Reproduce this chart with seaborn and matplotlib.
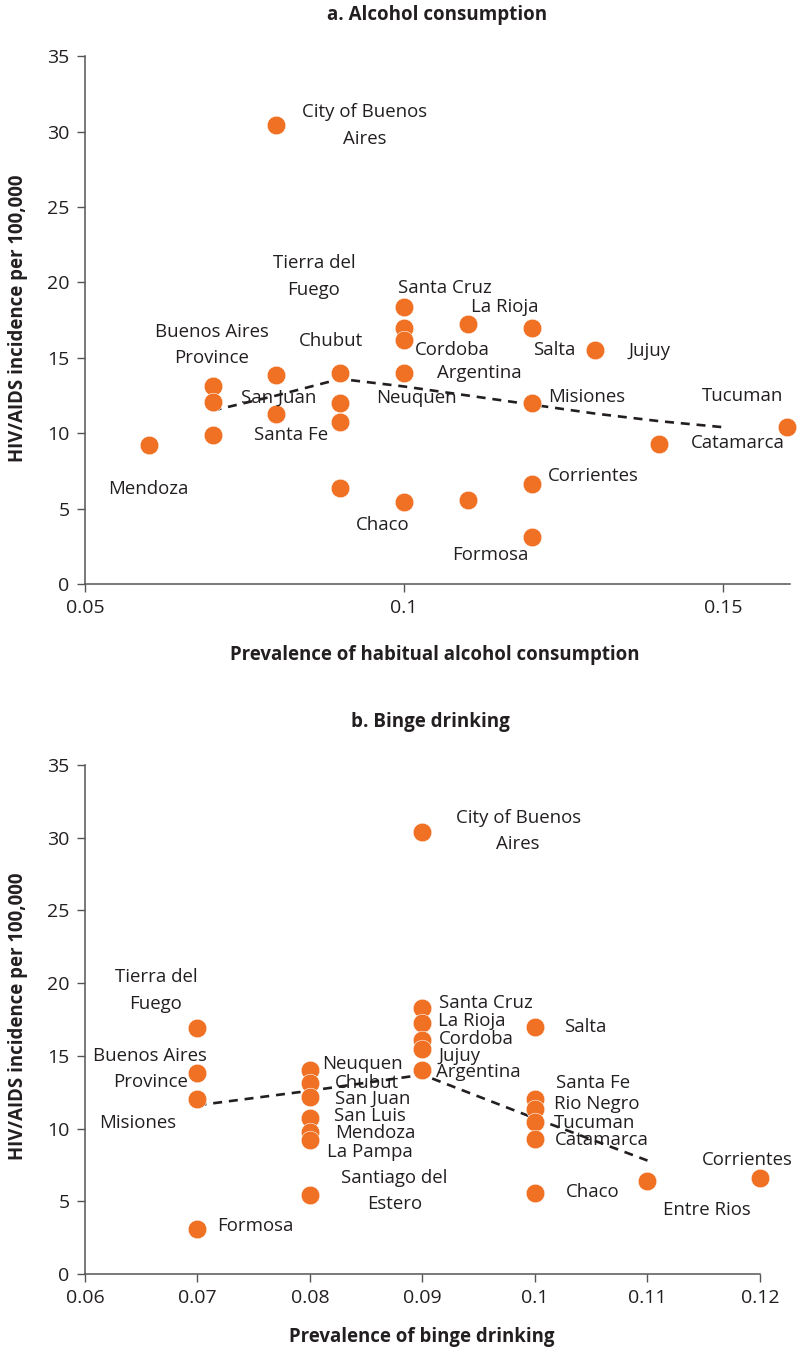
import matplotlib
matplotlib.use("Agg")
import matplotlib.pyplot as plt
import seaborn as sns
from matplotlib.ticker import FuncFormatter

# Panel a: habitual alcohol consumption vs HIV/AIDS incidence
alc_x = [0.06, 0.07, 0.07, 0.07, 0.08, 0.08, 0.08, 0.09, 0.09, 0.09, 0.09,
         0.10, 0.10, 0.10, 0.10, 0.10, 0.11, 0.11, 0.12, 0.12, 0.12, 0.12,
         0.13, 0.14, 0.16]
alc_y = [9.2, 13.1, 12.1, 9.85, 30.4, 13.85, 11.3, 14.0, 12.0, 10.75, 6.4,
         18.35, 16.95, 16.15, 14.0, 5.45, 17.25, 5.6, 17.0, 12.0, 6.65, 3.1,
         15.5, 9.3, 10.4]
alc_trend_x = [0.07, 0.08, 0.09, 0.10, 0.11, 0.12, 0.13, 0.14, 0.15]
alc_trend_y = [11.5, 12.5, 13.6, 13.1, 12.5, 11.9, 11.3, 10.8, 10.4]

# Panel b: binge drinking vs HIV/AIDS incidence
binge_x = [0.07, 0.07, 0.07, 0.07, 0.08, 0.08, 0.08, 0.08, 0.08, 0.08, 0.08,
           0.09, 0.09, 0.09, 0.09, 0.09, 0.09, 0.10, 0.10, 0.10, 0.10, 0.10,
           0.10, 0.11, 0.12]
binge_y = [16.9, 13.8, 12.05, 3.1, 14.05, 13.1, 12.15, 10.7, 9.75, 9.2, 5.4,
           30.4, 18.3, 17.25, 16.1, 15.5, 14.05, 17.0, 12.05, 11.35, 10.45,
           9.3, 5.6, 6.4, 6.6]
binge_trend_x = [0.07, 0.08, 0.09, 0.10, 0.11]
binge_trend_y = [11.6, 12.6, 13.7, 10.7, 7.8]

# label text and where it sits (data coords, centre of text)
alc_labels = [
    ("City of Buenos\nAires", 0.0938, 30.4), ("Tierra del\nFuego", 0.0859, 20.4),
    ("Santa Cruz", 0.1064, 19.6), ("La Rioja", 0.1158, 18.35),
    ("Buenos Aires\nProvince", 0.0699, 15.85), ("Chubut", 0.0885, 16.1),
    ("Cordoba", 0.1076, 15.5), ("Salta", 0.1236, 15.55), ("Jujuy", 0.1385, 15.45),
    ("Argentina", 0.1118, 14.0), ("San Juan", 0.0803, 12.35),
    ("Neuquen", 0.1020, 12.35), ("Misiones", 0.1287, 12.4),
    ("Tucuman", 0.1531, 12.5), ("Catamarca", 0.1524, 9.35),
    ("Santa Fe", 0.0823, 9.85), ("Corrientes", 0.1297, 7.15),
    ("Mendoza", 0.0599, 6.3), ("Chaco", 0.0966, 3.9), ("Formosa", 0.1135, 1.9),
]
binge_labels = [
    ("City of Buenos\nAires", 0.0985, 30.45), ("Tierra del\nFuego", 0.0663, 19.5),
    ("Buenos Aires\nProvince", 0.0658, 14.1), ("Misiones", 0.0647, 10.4),
    ("Formosa", 0.0751, 3.3), ("Neuquen", 0.0847, 14.45), ("Chubut", 0.0851, 13.15),
    ("San Juan", 0.0856, 12.05), ("San Luis", 0.0853, 10.85),
    ("Mendoza", 0.0858, 9.7), ("La Pampa", 0.0853, 8.4),
    ("Santiago del\nEstero", 0.0875, 5.7), ("Santa Cruz", 0.0956, 18.6),
    ("La Rioja", 0.0944, 17.4), ("Cordoba", 0.0948, 16.15), ("Jujuy", 0.0933, 15.0),
    ("Argentina", 0.0950, 13.9), ("Salta", 0.1045, 17.0), ("Santa Fe", 0.1052, 13.15),
    ("Rio Negro", 0.1055, 11.7), ("Tucuman", 0.1053, 10.4),
    ("Catamarca", 0.1059, 9.2), ("Corrientes", 0.1189, 7.85),
    ("Chaco", 0.1051, 5.65), ("Entre Rios", 0.1153, 4.4),
]

sns.set_style("ticks")
plt.rcParams["font.family"] = ["Open Sans", "DejaVu Sans"]

ORANGE = "#F07124"
INK = "#231F20"

fig = plt.figure(figsize=(8.01, 13.52), dpi=100)
ax1 = fig.add_axes([0.1061, 0.568, 0.880, 0.3905])
ax2 = fig.add_axes([0.1061, 0.0577, 0.8427, 0.3765])


def draw_panel(ax, xs, ys, tx, ty, labels, xlim, xticks, xlabel):
    sns.lineplot(x=tx, y=ty, ax=ax, color=INK, linestyle=(0, (3.4, 2.6)),
                 linewidth=1.9, zorder=2)
    sns.scatterplot(x=xs, y=ys, ax=ax, color=ORANGE, s=180, edgecolor="white",
                    linewidth=0.4, zorder=3, clip_on=False)
    for txt, lx, ly in labels:
        ax.text(lx, ly, txt, ha="center", va="center", fontsize=13.4,
                color=INK, linespacing=1.6, zorder=4)
    ax.set_xlim(*xlim)
    ax.set_ylim(0, 35)
    ax.set_xticks(xticks)
    ax.set_yticks(range(0, 36, 5))
    ax.xaxis.set_major_formatter(FuncFormatter(lambda v, p: f"{v:g}"))
    ax.tick_params(length=6, width=1, color="#555555", labelsize=14,
                   labelcolor=INK, pad=5)
    sns.despine(ax=ax)
    for s in ("left", "bottom"):
        ax.spines[s].set_color("#555555")
        ax.spines[s].set_linewidth(1.1)
    ax.set_xlabel(xlabel, fontsize=13.4, fontweight="bold", color=INK)
    ax.set_ylabel("HIV/AIDS incidence per 100,000", fontsize=13.4,
                  fontweight="bold", color=INK)


draw_panel(ax1, alc_x, alc_y, alc_trend_x, alc_trend_y, alc_labels,
           (0.05, 0.1605), [0.05, 0.10, 0.15],
           "Prevalence of habitual alcohol consumption")
draw_panel(ax2, binge_x, binge_y, binge_trend_x, binge_trend_y, binge_labels,
           (0.06, 0.12), [0.06, 0.07, 0.08, 0.09, 0.10, 0.11, 0.12],
           "Prevalence of binge drinking")

ax1.xaxis.set_label_coords(0.4965, -0.1155)
ax2.xaxis.set_label_coords(0.4993, -0.104)
ax1.yaxis.set_label_coords(-0.081, 0.504)
ax2.yaxis.set_label_coords(-0.0845, 0.507)

fig.text(0.5456, 0.989, "a. Alcohol consumption", ha="center", va="center",
         fontsize=13.5, fontweight="bold", color=INK)
fig.text(0.537, 0.466, "b. Binge drinking", ha="center", va="center",
         fontsize=13.5, fontweight="bold", color=INK)

fig.savefig("out.png", dpi=100)
